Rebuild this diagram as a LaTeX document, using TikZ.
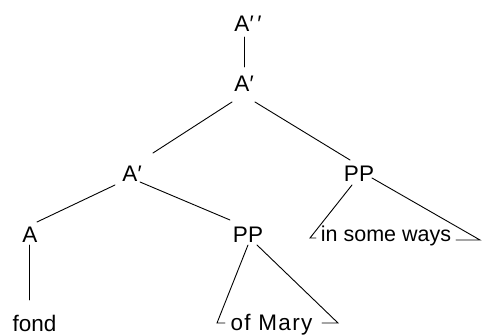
\documentclass[tikz,border=0pt]{standalone}
\usepackage{fontspec}
\setmainfont{Liberation Sans}
\begin{document}
\begin{tikzpicture}[x=1pt,y=-1pt,
  lbl/.style={inner sep=0pt,anchor=base,font=\fontsize{22.5}{26}\selectfont},
  edge/.style={line width=0.9pt,line cap=round}]
\useasboundingbox (0,0) rectangle (483,336);
% nodes
\node[lbl] (App) at (242,32) {A\rlap{′\,′}};
\node[lbl] (Ap1) at (242,92) {A\rlap{′}};
\node[lbl] (Ap2) at (130,182) {A\rlap{′}};
\node[lbl] (PP1) at (359,182) {PP};
\node[lbl] (A)   at (30,243) {A};
\node[lbl] (PP2) at (248,243) {PP};
\node[lbl] (fond) at (34.5,332) {fond};
\node[lbl,font=\fontsize{21.5}{26}\selectfont] (ism) at (386,242) {in some ways};
\node[lbl] (om)  at (271.5,331) {\addfontfeature{LetterSpace=6}of Mary};
% triangle corners
\coordinate (isl) at (310,238);
\coordinate (isr) at (480,240);
\coordinate (oml) at (217,323);
\coordinate (omr) at (338,323);
% connectors
\draw[edge] ([shift={(2,5)}]App.base) -- ([shift={(2,-25)}]Ap1.base);
\draw[edge] ([shift={(-10,10)}]Ap1.base) -- ([shift={(23,-29)}]Ap2.base);
\draw[edge] ([shift={(13,10)}]Ap1.base) -- ([shift={(-9,-22)}]PP1.base);
\draw[edge] ([shift={(-15,3)}]Ap2.base) -- ([shift={(7,-21)}]A.base);
\draw[edge] ([shift={(10,0)}]Ap2.base) -- ([shift={(-18,-23)}]PP2.base);
\draw[edge] ([shift={(-1,2)}]A.base) -- ([shift={(-5.5,-32)}]fond.base);
% triangle: in some ways
\draw[edge] ([shift={(-7,3)}]PP1.base) -- (isl) -- ([shift={(-70,-4)}]ism.base);
\draw[edge] ([shift={(13,-4)}]PP1.base) -- (isr) -- ([shift={(70,-2)}]ism.base);
% triangle: of Mary
\draw[edge] ([shift={(0,2)}]PP2.base) -- (oml) -- ([shift={(-46.5,-8)}]om.base);
\draw[edge] ([shift={(9,2)}]PP2.base) -- (omr) -- ([shift={(50.5,-8)}]om.base);
\end{tikzpicture}
\end{document}
